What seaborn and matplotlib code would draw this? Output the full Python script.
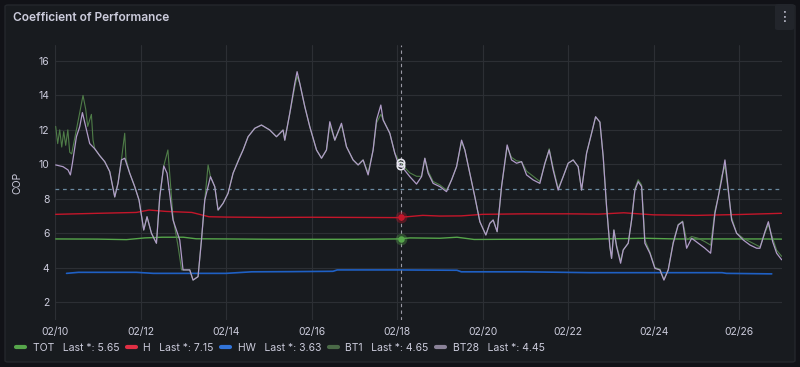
import numpy as np
import pandas as pd
import matplotlib
matplotlib.use("Agg")
import matplotlib.pyplot as plt
import matplotlib.dates as mdates
from matplotlib.patches import FancyBboxPatch
from matplotlib.lines import Line2D
import seaborn as sns

# ---------------- data (day offsets from 2025-02-10 00:00) ----------------
START = pd.Timestamp("2025-02-10")

bt28_days = [0.016, 0.187, 0.304, 0.360, 0.407, 0.501, 0.578, 0.641, 0.718, 0.812,
             0.929, 1.046, 1.163, 1.280, 1.397, 1.474, 1.553, 1.630, 1.747, 1.864,
             1.965, 2.075, 2.152, 2.255, 2.372, 2.449, 2.543, 2.620, 2.760, 2.917,
             2.994, 3.151, 3.228, 3.345, 3.425, 3.502, 3.635, 3.736, 3.813, 3.930,
             4.047, 4.164, 4.304, 4.398, 4.515, 4.671, 4.828, 5.022, 5.179, 5.333,
             5.373, 5.490, 5.607, 5.661, 5.724, 5.841, 5.958, 6.115, 6.232, 6.348,
             6.426, 6.543, 6.699, 6.816, 6.971, 7.088, 7.205, 7.322, 7.439, 7.518,
             7.619, 7.673, 7.829, 7.946, 8.023, 8.140, 8.297, 8.454, 8.571, 8.648,
             8.725, 8.842, 8.999, 9.155, 9.273, 9.390, 9.507, 9.584, 9.701, 9.818,
             9.935, 10.075, 10.168, 10.246, 10.339, 10.442, 10.573, 10.676, 10.793, 10.910,
             11.027, 11.181, 11.338, 11.455, 11.556, 11.649, 11.766, 11.883, 12.000, 12.117,
             12.234, 12.313, 12.430, 12.547, 12.641, 12.742, 12.819, 12.898, 12.975, 13.015,
             13.069, 13.132, 13.226, 13.287, 13.404, 13.483, 13.561, 13.637, 13.717, 13.794,
             13.911, 14.028, 14.145, 14.239, 14.339, 14.456, 14.573, 14.676, 14.770, 14.887,
             15.041, 15.198, 15.331, 15.432, 15.509, 15.588, 15.666, 15.719, 15.822, 15.939,
             16.094, 16.250, 16.407, 16.484, 16.601, 16.681, 16.782, 16.875, 16.992]
bt28_vals = [9.96, 9.86, 9.67, 9.38, 10.06, 11.6, 12.18, 13.0, 12.18, 11.2,
             10.9, 10.5, 10.15, 9.57, 8.1, 8.9, 10.25, 10.35, 9.48, 8.7,
             7.92, 6.18, 6.95, 5.99, 5.41, 8.1, 9.9, 9.48, 6.76, 5.6,
             3.86, 3.86, 3.27, 3.47, 5.6, 7.92, 9.28, 8.7, 7.34, 7.73,
             8.31, 9.48, 10.3, 10.83, 11.6, 12.09, 12.28, 11.99, 11.6, 11.99,
             11.4, 12.96, 14.7, 15.38, 14.7, 13.35, 12.18, 10.83, 10.35, 10.83,
             12.47, 11.4, 12.38, 11.02, 10.25, 9.96, 10.25, 9.38, 10.83, 12.57,
             13.44, 12.57, 11.8, 10.64, 10.06, 9.77, 9.28, 8.85, 9.28, 10.35,
             9.48, 8.89, 8.7, 8.41, 9.09, 9.86, 11.4, 10.83, 9.48, 8.1,
             6.66, 5.89, 6.57, 6.76, 6.08, 8.7, 11.12, 10.25, 10.06, 10.15,
             9.38, 9.09, 8.89, 10.06, 10.83, 9.67, 8.5, 9.28, 10.06, 10.25,
             9.86, 8.5, 10.64, 11.8, 12.76, 12.45, 10.44, 7.53, 5.21, 4.53,
             6.18, 5.21, 4.25, 5.02, 5.41, 6.76, 8.5, 8.99, 8.7, 5.41,
             4.83, 3.95, 3.86, 3.27, 3.86, 5.41, 6.47, 6.66, 5.12, 5.7,
             5.41, 5.12, 4.83, 7.15, 8.11, 9.09, 10.25, 9.09, 6.76, 5.99,
             5.6, 5.31, 5.12, 5.12, 6.08, 6.66, 5.5, 4.83, 4.45]

bt1_days = [0.016, 0.063, 0.110, 0.157, 0.204, 0.250, 0.300, 0.344, 0.390, 0.501,
            0.578, 0.655, 0.718, 0.765, 0.851, 0.889, 0.929, 1.046, 1.163, 1.280,
            1.397, 1.474, 1.553, 1.630, 1.660, 1.747, 1.864, 1.965, 2.075, 2.152,
            2.255, 2.372, 2.449, 2.543, 2.640, 2.680, 2.760, 2.880, 2.960, 3.151,
            3.228, 3.345, 3.425, 3.502, 3.580, 3.635, 3.736, 3.813, 3.930, 4.047,
            4.164, 4.304, 4.398, 4.515, 4.671, 4.828, 5.022, 5.179, 5.333, 5.373,
            5.490, 5.607, 5.661, 5.724, 5.841, 5.958, 6.115, 6.232, 6.348, 6.426,
            6.543, 6.699, 6.816, 6.971, 7.088, 7.205, 7.322, 7.439, 7.518, 7.619,
            7.673, 7.829, 7.946, 8.023, 8.140, 8.297, 8.454, 8.571, 8.648, 8.725,
            8.842, 8.999, 9.155, 9.273, 9.390, 9.507, 9.584, 9.701, 9.818, 9.935,
            10.075, 10.168, 10.246, 10.339, 10.442, 10.573, 10.676, 10.793, 10.910, 11.027,
            11.181, 11.338, 11.455, 11.556, 11.649, 11.766, 11.883, 12.000, 12.117, 12.234,
            12.313, 12.430, 12.547, 12.641, 12.742, 12.819, 12.898, 12.975, 13.015, 13.069,
            13.132, 13.226, 13.287, 13.404, 13.483, 13.561, 13.637, 13.717, 13.794, 13.911,
            14.028, 14.145, 14.239, 14.339, 14.456, 14.573, 14.676, 14.770, 14.887, 15.041,
            15.198, 15.331, 15.432, 15.509, 15.588, 15.666, 15.719, 15.822, 15.939, 16.094,
            16.250, 16.407, 16.484, 16.601, 16.681, 16.782, 16.875, 16.992]
bt1_vals = [12.2, 11.2, 12.0, 11.0, 11.9, 11.1, 12.0, 10.7, 10.6, 12.0,
            13.0, 14.0, 13.2, 12.2, 12.9, 11.4, 10.9, 10.5, 10.15, 9.57,
            8.1, 8.9, 10.25, 11.8, 10.3, 9.48, 8.7, 7.92, 6.18, 6.95,
            5.99, 5.41, 8.1, 9.9, 10.83, 9.5, 6.9, 5.2, 3.86, 3.86,
            3.27, 3.47, 5.6, 7.92, 9.96, 9.28, 8.7, 7.34, 7.73, 8.31,
            9.48, 10.35, 10.83, 11.6, 12.09, 12.28, 11.99, 11.6, 11.99, 11.4,
            12.96, 14.5, 15.1, 14.7, 13.35, 12.18, 10.83, 10.35, 10.83, 12.3,
            11.4, 12.3, 11.02, 10.25, 9.96, 10.25, 9.5, 10.83, 12.4, 12.9,
            12.6, 11.8, 10.64, 10.3, 9.9, 9.5, 9.3, 9.3, 10.35, 9.6,
            9.0, 8.8, 8.5, 9.09, 9.86, 11.3, 10.83, 9.48, 8.1, 6.66,
            5.89, 6.57, 6.76, 6.08, 8.7, 11.0, 10.4, 10.2, 10.15, 9.6,
            9.3, 9.0, 10.0, 10.9, 9.8, 8.6, 9.28, 10.06, 10.25, 9.86,
            8.5, 10.64, 11.8, 12.76, 12.45, 10.44, 7.53, 5.21, 4.53, 6.18,
            5.3, 4.4, 5.02, 5.41, 6.76, 8.6, 9.1, 8.8, 5.6, 4.9,
            4.0, 3.9, 3.3, 3.86, 5.5, 6.5, 6.7, 5.6, 5.8, 5.7,
            5.5, 5.3, 7.3, 8.1, 9.3, 9.9, 8.9, 6.9, 6.0, 5.7,
            5.5, 5.3, 5.2, 6.0, 6.5, 5.7, 5.0, 4.65]

tot_days = [0.016, 1.0, 1.67, 2.1, 2.5, 3.0, 3.3, 4.0, 5.0, 6.0, 7.0, 8.0, 8.3,
            9.0, 9.4, 9.8, 10.5, 11.5, 12.5, 13.3, 13.8, 14.5, 15.5, 16.5, 16.99]
tot_vals = [5.66, 5.65, 5.62, 5.72, 5.76, 5.76, 5.67, 5.66, 5.64, 5.64, 5.64, 5.66, 5.72,
            5.70, 5.76, 5.63, 5.64, 5.64, 5.65, 5.68, 5.70, 5.66, 5.66, 5.66, 5.65]

h_days = [0.016, 1.0, 1.9, 2.2, 2.6, 3.2, 3.6, 4.0, 5.0, 6.0, 7.0, 8.0, 8.6,
          9.0, 9.5, 10.0, 11.0, 12.0, 12.7, 13.3, 14.0, 15.0, 16.0, 16.99]
h_vals = [7.09, 7.15, 7.20, 7.34, 7.26, 7.20, 6.95, 6.93, 6.91, 6.92, 6.91, 6.90, 7.03,
          6.99, 7.00, 7.09, 7.12, 7.12, 7.10, 7.18, 7.06, 7.03, 7.08, 7.15]

hw_days = [0.27, 0.55, 1.0, 1.9, 2.3, 4.0, 4.6, 5.5, 6.5, 6.6, 8.0, 9.4, 9.5,
           11.0, 12.5, 14.0, 15.6, 15.7, 16.76]
hw_vals = [3.66, 3.72, 3.72, 3.72, 3.66, 3.66, 3.75, 3.76, 3.78, 3.86, 3.86, 3.84, 3.75,
           3.75, 3.70, 3.70, 3.70, 3.66, 3.63]

threshold = 8.58
crosshair_day = 8.09

series_names = ["TOT", "H", "HW", "BT1", "BT28"]
last_values = ["5.65", "7.15", "3.63", "4.65", "4.45"]
y_ticks = [2, 4, 6, 8, 10, 12, 14, 16]
x_tick_days = [0, 2, 4, 6, 8, 10, 12, 14, 16]

# ---------------- styling ----------------
BG = "#111217"
PANEL = "#181b1f"
GRID = "#2c2f34"
TEXT = "#ccccdc"
colors = {"TOT": "#56A64B", "H": "#C4162A", "HW": "#1F60C4",
          "BT1": "#4f7d48", "BT28": "#b09cc8"}
legend_colors = {"TOT": "#56A64B", "H": "#E02F44", "HW": "#3274D9",
                 "BT1": "#4a6a47", "BT28": "#8a8298"}

sns.set_theme(style="dark")
plt.rcParams["font.family"] = ["Inter", "DejaVu Sans"]


def to_time(days):
    return START + pd.to_timedelta(np.asarray(days, dtype=float), unit="D")


frames = []
for name, d, v in [("TOT", tot_days, tot_vals), ("H", h_days, h_vals),
                   ("HW", hw_days, hw_vals), ("BT1", bt1_days, bt1_vals),
                   ("BT28", bt28_days, bt28_vals)]:
    frames.append(pd.DataFrame({"time": to_time(d), "value": v, "series": name}))
df = pd.concat(frames, ignore_index=True)

fig = plt.figure(figsize=(8.0, 3.67), dpi=100)
fig.patch.set_facecolor(BG)

# panel background
panel = FancyBboxPatch((5 / 800, 5 / 367), 790 / 800, 357 / 367,
                       boxstyle="round,pad=0,rounding_size=0.004",
                       transform=fig.transFigure, facecolor=PANEL,
                       edgecolor="#24272c", linewidth=1.0, zorder=-3)
fig.patches.append(panel)

# menu button
btn = FancyBboxPatch((775 / 800, 337 / 367), 19 / 800, 26 / 367,
                     boxstyle="round,pad=0,rounding_size=0.004",
                     transform=fig.transFigure, facecolor="#22252b",
                     edgecolor="none", zorder=-2)
fig.patches.append(btn)
fig.text(784.5 / 800, 350 / 367, "⋮", color=TEXT, fontsize=10, ha="center",
         va="center", family=["DejaVu Sans"])

fig.text(13 / 800, 349 / 367, "Coefficient of Performance", color=TEXT,
         fontsize=8.6, fontweight="semibold", ha="left", va="center")

ax = fig.add_axes([55 / 800, 47 / 367, 727 / 800, 275 / 367])
ax.set_facecolor(PANEL)

widths = {"TOT": 1.0, "H": 1.0, "HW": 1.2, "BT1": 0.8, "BT28": 0.9}
for name in ["TOT", "H", "HW", "BT1", "BT28"]:
    sub = df[df["series"] == name]
    sns.lineplot(data=sub, x="time", y="value", ax=ax, color=colors[name],
                 linewidth=widths[name], estimator=None, sort=False, legend=False,
                 zorder=3 if name in ("BT1", "BT28") else 2)

# threshold dashed line
ax.axhline(threshold, color="#6a8aa0", linestyle=(0, (3, 3)), linewidth=0.9, zorder=1.5)

# crosshair
ct = to_time([crosshair_day])[0]
ax.axvline(ct, color="#9a9aa5", linestyle=(0, (3, 3)), linewidth=0.8, zorder=4)
for name, d, v in [("BT1", bt1_days, bt1_vals), ("BT28", bt28_days, bt28_vals)]:
    yv = np.interp(crosshair_day, d, v)
    ax.scatter([ct], [yv], s=28, facecolor="none", edgecolor="#e8e8f0",
               linewidth=1.2, zorder=6)
for name, d, v in [("H", h_days, h_vals), ("TOT", tot_days, tot_vals)]:
    yv = np.interp(crosshair_day, d, v)
    ax.scatter([ct], [yv], s=70, color=colors[name], alpha=0.35, linewidth=0, zorder=5)
    ax.scatter([ct], [yv], s=22, color=colors[name], linewidth=0, zorder=6)

ax.set_xlim(START, START + pd.Timedelta(days=17))
ax.set_ylim(0.95, 16.93)
ax.set_yticks(y_ticks)
ax.set_xticks(to_time(x_tick_days))
ax.xaxis.set_major_formatter(mdates.DateFormatter("%m/%d"))
ax.grid(True, color=GRID, linewidth=0.8)
ax.set_axisbelow(True)
for s in ax.spines.values():
    s.set_visible(False)
ax.tick_params(axis="both", colors=TEXT, labelsize=7.5, length=0)
ax.tick_params(axis="y", pad=4)
ax.tick_params(axis="x", pad=5)
ax.set_xlabel("")
ax.set_ylabel("COP", color=TEXT, fontsize=7.5, labelpad=12)

# legend
handles = [Line2D([0], [0], color=legend_colors[n], linewidth=3.0,
                  solid_capstyle="round") for n in series_names]
labels = [f"{n}   Last *: {v}" for n, v in zip(series_names, last_values)]
leg = fig.legend(handles, labels, loc="center left", bbox_to_anchor=(16 / 800, 19 / 367),
                 ncol=5, frameon=False, fontsize=7.5, handlelength=0.85,
                 handletextpad=0.75, columnspacing=0.72, labelcolor=TEXT,
                 borderaxespad=0, borderpad=0)

fig.savefig("out.png", dpi=100, facecolor=BG)
